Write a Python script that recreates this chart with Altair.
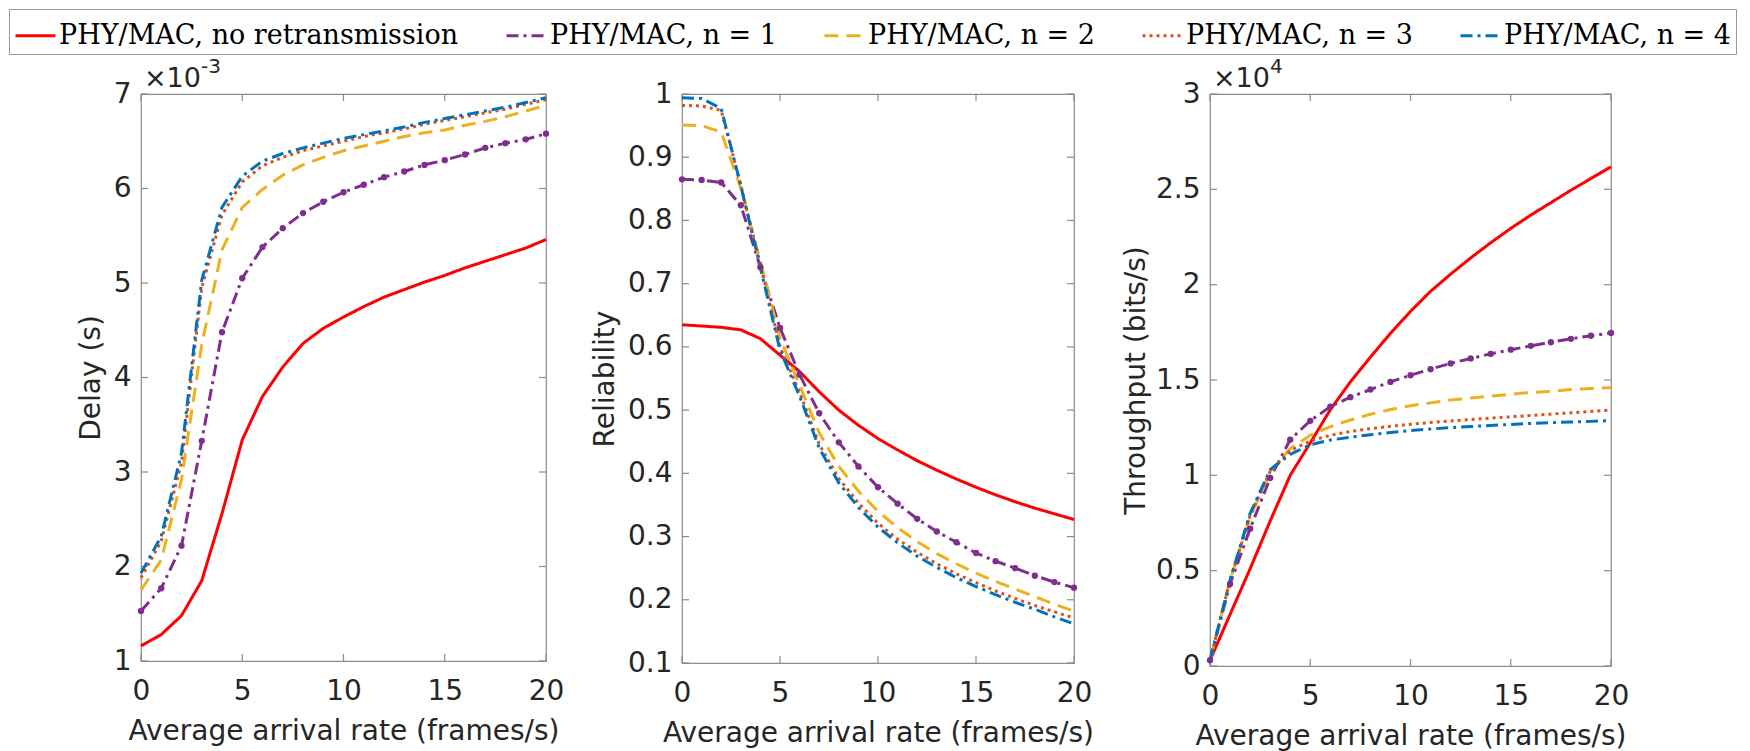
import altair as alt
import pandas as pd

# ---------------- data ----------------
X = list(range(21))
XTICKS = [0, 5, 10, 15, 20]

SERIES = ["PHY/MAC, no retransmission", "PHY/MAC, n = 1", "PHY/MAC, n = 2",
          "PHY/MAC, n = 3", "PHY/MAC, n = 4"]
COLORS = ["#FF0000", "#7E2F8E", "#EDB120", "#D95319", "#0072BD"]
DASHES = [[1, 0], [12, 5, 3, 5], [14, 8], [3, 4], [12, 5, 3, 5]]

# Delay (x 10^-3 s)
DELAY_NO_RETX = [1.16, 1.28, 1.48, 1.85, 2.56, 3.34, 3.80, 4.11, 4.36, 4.52, 4.64,
                 4.75, 4.85, 4.93, 5.01, 5.08, 5.16, 5.23, 5.30, 5.37, 5.46]
DELAY_N1 = [1.53, 1.77, 2.22, 3.33, 4.48, 5.05, 5.38, 5.58, 5.74, 5.86, 5.96,
            6.04, 6.12, 6.18, 6.25, 6.30, 6.36, 6.43, 6.48, 6.52, 6.58]
DELAY_N2 = [1.75, 2.07, 2.92, 4.35, 5.35, 5.80, 5.99, 6.14, 6.25, 6.33, 6.40,
            6.45, 6.50, 6.55, 6.59, 6.62, 6.67, 6.71, 6.76, 6.82, 6.88]
DELAY_N3 = [1.88, 2.27, 3.10, 4.95, 5.72, 6.07, 6.24, 6.33, 6.40, 6.45, 6.50,
            6.55, 6.59, 6.63, 6.68, 6.72, 6.76, 6.80, 6.84, 6.89, 6.94]
DELAY_N4 = [1.93, 2.32, 3.20, 5.03, 5.80, 6.13, 6.29, 6.37, 6.43, 6.48, 6.53,
            6.57, 6.61, 6.65, 6.70, 6.74, 6.78, 6.82, 6.86, 6.91, 6.96]

# Reliability
REL_NO_RETX = [0.635, 0.633, 0.631, 0.627, 0.613, 0.587, 0.561, 0.529, 0.500, 0.476, 0.455,
               0.437, 0.420, 0.405, 0.391, 0.378, 0.366, 0.355, 0.345, 0.336, 0.327]
REL_N1 = [0.865, 0.864, 0.860, 0.824, 0.726, 0.630, 0.556, 0.495, 0.449, 0.411, 0.378,
          0.352, 0.328, 0.308, 0.291, 0.274, 0.261, 0.250, 0.238, 0.228, 0.219]
REL_N2 = [0.951, 0.950, 0.940, 0.851, 0.735, 0.614, 0.540, 0.464, 0.411, 0.372, 0.340,
          0.314, 0.292, 0.273, 0.257, 0.242, 0.229, 0.217, 0.205, 0.193, 0.182]
REL_N3 = [0.982, 0.981, 0.974, 0.856, 0.730, 0.600, 0.528, 0.446, 0.392, 0.353, 0.321,
          0.296, 0.275, 0.257, 0.241, 0.227, 0.214, 0.202, 0.191, 0.181, 0.171]
REL_N4 = [0.994, 0.993, 0.977, 0.855, 0.725, 0.595, 0.522, 0.440, 0.385, 0.346, 0.315,
          0.290, 0.269, 0.251, 0.235, 0.221, 0.208, 0.196, 0.185, 0.173, 0.162]

# Throughput (x 10^4 bits/s)
THR_NO_RETX = [0.03, 0.27, 0.51, 0.76, 1.00, 1.17, 1.344, 1.49, 1.62, 1.745, 1.86,
               1.965, 2.055, 2.14, 2.22, 2.295, 2.365, 2.43, 2.495, 2.557, 2.618]
THR_N1 = [0.03, 0.43, 0.72, 0.986, 1.187, 1.286, 1.36, 1.41, 1.45, 1.49, 1.525,
          1.557, 1.587, 1.613, 1.637, 1.659, 1.679, 1.698, 1.716, 1.732, 1.747]
THR_N2 = [0.03, 0.45, 0.78, 1.02, 1.14, 1.21, 1.255, 1.29, 1.32, 1.345, 1.365,
          1.38, 1.395, 1.405, 1.415, 1.425, 1.435, 1.44, 1.45, 1.455, 1.46]
THR_N3 = [0.03, 0.45, 0.79, 1.02, 1.13, 1.18, 1.21, 1.23, 1.245, 1.257, 1.268,
          1.277, 1.285, 1.292, 1.30, 1.307, 1.314, 1.321, 1.328, 1.335, 1.343]
THR_N4 = [0.03, 0.45, 0.80, 1.03, 1.11, 1.16, 1.185, 1.20, 1.213, 1.225, 1.235,
          1.243, 1.25, 1.256, 1.262, 1.267, 1.272, 1.276, 1.28, 1.283, 1.287]

DELAY_TICKS = [1, 2, 3, 4, 5, 6, 7]
REL_TICKS = [0.1, 0.2, 0.3, 0.4, 0.5, 0.6, 0.7, 0.8, 0.9, 1.0]
THR_TICKS = [0, 0.5, 1, 1.5, 2, 2.5, 3]

X_TITLE = "Average arrival rate (frames/s)"

DELAY = [DELAY_NO_RETX, DELAY_N1, DELAY_N2, DELAY_N3, DELAY_N4]
REL = [REL_NO_RETX, REL_N1, REL_N2, REL_N3, REL_N4]
THR = [THR_NO_RETX, THR_N1, THR_N2, THR_N3, THR_N4]

rows = []
for s, d, r, t in zip(SERIES, DELAY, REL, THR):
    for i, x in enumerate(X):
        rows.append({"series": s, "x": x, "delay": d[i], "rel": r[i], "thr": t[i]})
df = pd.DataFrame(rows)

AX = "#8c8c8c"
TXT = "#262626"
TICK = 7


def panel(field, ytitle, ydom, yticks, lab_expr, w, h, tpad, exp_base=None, exp_sup=None):
    xenc = alt.X("x:Q", scale=alt.Scale(domain=[0, 20], nice=False),
                 axis=alt.Axis(values=XTICKS, title=X_TITLE, labelFlush=False,
                               labelPadding=16, titlePadding=12))
    yenc = alt.Y(f"{field}:Q", scale=alt.Scale(domain=ydom, nice=False, zero=False),
                 axis=alt.Axis(values=yticks, title=ytitle, labelExpr=lab_expr,
                               labelPadding=10, titlePadding=tpad, labelFlush=False))
    lines = alt.Chart(df).mark_line(strokeWidth=3, strokeCap="butt").encode(
        x=xenc, y=yenc,
        color=alt.Color("series:N", scale=alt.Scale(domain=SERIES, range=COLORS), title=None),
        strokeDash=alt.StrokeDash("series:N", scale=alt.Scale(domain=SERIES, range=DASHES), title=None),
    )
    pts = alt.Chart(df).transform_filter(alt.datum.series == SERIES[1]).mark_circle(
        size=40, opacity=1, color=COLORS[1]).encode(x="x:Q", y=f"{field}:Q")

    xt = pd.DataFrame({"x": XTICKS})
    yt = pd.DataFrame({field: yticks})
    rule = dict(color=AX, strokeWidth=1.2)
    tb = alt.Chart(xt).mark_rule(**rule).encode(x="x:Q", y=alt.value(h), y2=alt.value(h - TICK))
    tt = alt.Chart(xt).mark_rule(**rule).encode(x="x:Q", y=alt.value(0), y2=alt.value(TICK))
    tl = alt.Chart(yt).mark_rule(**rule).encode(y=f"{field}:Q", x=alt.value(0), x2=alt.value(TICK))
    tr = alt.Chart(yt).mark_rule(**rule).encode(y=f"{field}:Q", x=alt.value(w), x2=alt.value(w - TICK))

    layers = [tb, tt, tl, tr, lines, pts]
    if exp_base:
        layers.append(alt.Chart(pd.DataFrame({"t": [exp_base]})).mark_text(
            align="left", baseline="alphabetic", font="DejaVu Sans", fontSize=27, color=TXT
        ).encode(text="t:N", x=alt.value(3), y=alt.value(-7)))
        layers.append(alt.Chart(pd.DataFrame({"t": [exp_sup]})).mark_text(
            align="left", baseline="alphabetic", font="DejaVu Sans", fontSize=20, color=TXT
        ).encode(text="t:N", x=alt.value(60), y=alt.value(-21)))
    return alt.layer(*layers).properties(width=w, height=h)


p1 = panel("delay", "Delay (s)", [1, 7], DELAY_TICKS, "'' + datum.value",
           405, 567, 8, "×10", "-3")
p2 = panel("rel", "Reliability", [0.1, 1.0], REL_TICKS, "format(datum.value, '.1~f')",
           392, 569, 8)
p3 = panel("thr", "Throughput (bits/s)", [0, 3], THR_TICKS, "format(datum.value, '~g')",
           401, 572, 5, "×10", "4")

chart = alt.hconcat(p1, p2, p3, spacing=136, bounds="flush", padding=0).configure(
    font="DejaVu Sans"
).configure_view(
    stroke=AX, strokeWidth=1.2
).configure_axis(
    labelFont="DejaVu Sans", labelFontSize=28, labelColor=TXT,
    titleFont="DejaVu Sans", titleFontSize=28, titleColor=TXT, titleFontWeight="normal",
    ticks=False, domain=False, grid=False, labelOverlap=False
).configure_legend(
    orient="none", legendX=-132, legendY=-85, direction="horizontal", columns=5,
    symbolType="stroke", symbolSize=1600, symbolStrokeWidth=3,
    labelFont="DejaVu Serif", labelFontSize=27, labelColor="black", labelOffset=2,
    labelLimit=1000, columnPadding=41, padding=5, strokeColor="#999999",
    fillColor="white", cornerRadius=0
)

chart.save("out.html", embed_options={"renderer": "svg", "actions": False})
